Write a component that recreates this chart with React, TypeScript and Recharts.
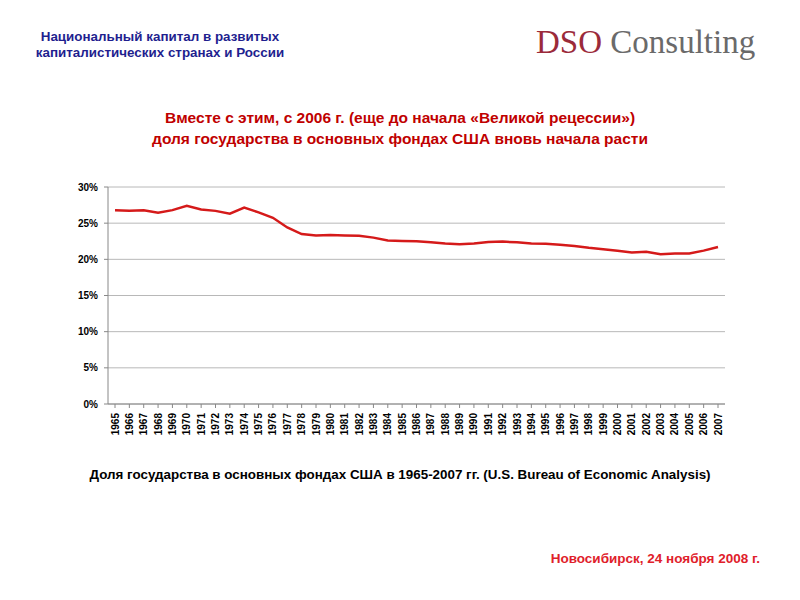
import React from "react";
import { CartesianGrid, Line, LineChart, XAxis, YAxis } from "recharts";

const years = [
  "1965", "1966", "1967", "1968", "1969", "1970", "1971", "1972", "1973", "1974",
  "1975", "1976", "1977", "1978", "1979", "1980", "1981", "1982", "1983", "1984",
  "1985", "1986", "1987", "1988", "1989", "1990", "1991", "1992", "1993", "1994",
  "1995", "1996", "1997", "1998", "1999", "2000", "2001", "2002", "2003", "2004",
  "2005", "2006", "2007",
];

// доля государства, %
const govShare = [
  26.8, 26.7, 26.8, 26.45, 26.8, 27.4, 26.9, 26.7, 26.3, 27.15,
  26.5, 25.75, 24.4, 23.5, 23.3, 23.35, 23.3, 23.25, 23.0, 22.6,
  22.55, 22.5, 22.35, 22.2, 22.1, 22.2, 22.4, 22.45, 22.35, 22.2,
  22.15, 22.0, 21.85, 21.6, 21.4, 21.2, 20.95, 21.05, 20.7, 20.8,
  20.8, 21.2, 21.7,
];

const yTicks = [0, 5, 10, 15, 20, 25, 30];

const data = years.map((year, i) => ({ year, share: govShare[i] }));

const FONT = "'Liberation Sans', Arial, sans-serif";

function YearTick({ x, y, payload }: any) {
  return (
    <g transform={`translate(${x},${y})`}>
      <text
        transform="rotate(-90)"
        x={-3}
        y={0}
        dy={3.5}
        textAnchor="end"
        fontSize={10}
        fontWeight="bold"
        fontFamily={FONT}
        fill="#000"
      >
        {payload.value}
      </text>
    </g>
  );
}

export default function App() {
  return (
    <div
      style={{
        position: "absolute",
        left: 0,
        top: 0,
        width: 800,
        height: 600,
        background: "#fff",
        fontFamily: FONT,
        overflow: "hidden",
      }}
    >
      <div
        style={{
          position: "absolute",
          left: 10,
          top: 29,
          width: 300,
          textAlign: "center",
          color: "#1f1f8f",
          fontWeight: "bold",
          fontSize: 13.4,
          lineHeight: "16px",
        }}
      >
        Национальный капитал в развитых
        <br />
        капиталистических странах и России
      </div>
      <div
        style={{
          position: "absolute",
          left: 536,
          top: 22,
          fontFamily: "'Liberation Serif', 'DejaVu Serif', serif",
          fontSize: 33,
          lineHeight: "40px",
          whiteSpace: "nowrap",
        }}
      >
        <span style={{ color: "#9b2a3a" }}>DSO</span>{" "}
        <span style={{ color: "#6a6a6a" }}>Consulting</span>
      </div>
      <div
        style={{
          position: "absolute",
          left: 0,
          top: 107,
          width: 800,
          textAlign: "center",
          color: "#c00000",
          fontWeight: "bold",
          fontSize: 15.5,
          lineHeight: "21px",
        }}
      >
        Вместе с этим, с 2006 г. (еще до начала «Великой рецессии»)
        <br />
        доля государства в основных фондах США вновь начала расти
      </div>

      <div style={{ position: "absolute", left: 0, top: 0 }}>
        <LineChart
          width={800}
          height={600}
          data={data}
          margin={{ top: 187, right: 75, bottom: 156, left: 68 }}
        >
          <CartesianGrid vertical={false} stroke="#b8b8b8" strokeWidth={1} />
          <XAxis
            dataKey="year"
            interval={0}
            height={40}
            padding={{ left: 7, right: 7 }}
            tick={<YearTick />}
            tickLine={{ stroke: "#888" }}
            tickSize={4}
            axisLine={{ stroke: "#888" }}
          />
          <YAxis
            width={40}
            domain={[0, 30]}
            ticks={yTicks}
            tickFormatter={(v: number) => `${v}%`}
            tick={{ fontSize: 10, fill: "#000", fontFamily: FONT, fontWeight: "bold", dx: -4 }}
            tickLine={{ stroke: "#888" }}
            tickSize={4}
            axisLine={{ stroke: "#888" }}
          />
          <Line
            type="linear"
            dataKey="share"
            stroke="#d51a1a"
            strokeWidth={2.5}
            dot={false}
            isAnimationActive={false}
          />
        </LineChart>
      </div>

      <div
        style={{
          position: "absolute",
          left: 0,
          top: 467,
          width: 800,
          textAlign: "center",
          color: "#000",
          fontWeight: "bold",
          fontSize: 13.4,
        }}
      >
        Доля государства в основных фондах США в 1965-2007 гг. (U.S. Bureau of Economic Analysis)
      </div>
      <div
        style={{
          position: "absolute",
          right: 40,
          top: 551,
          color: "#e0202a",
          fontWeight: "bold",
          fontSize: 13.5,
          whiteSpace: "nowrap",
        }}
      >
        Новосибирск, 24 ноября 2008 г.
      </div>
    </div>
  );
}
